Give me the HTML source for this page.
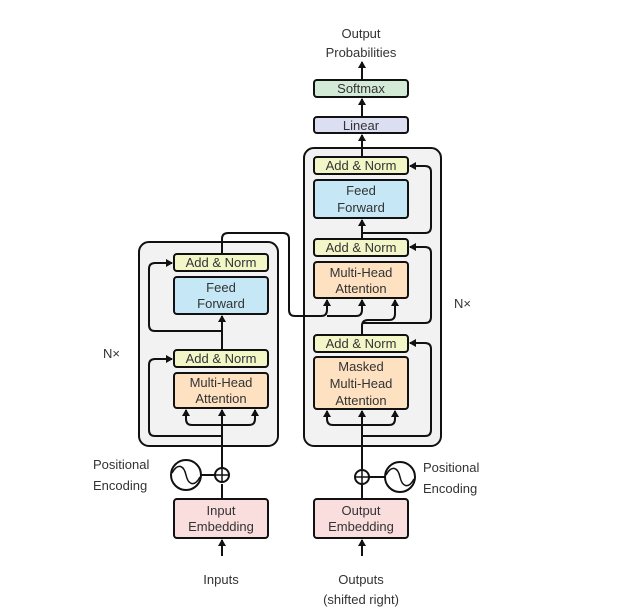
<!DOCTYPE html>
<html><head><style>
body{margin:0;background:#fff;}
svg{display:block;}
text{font-family:"Liberation Sans",sans-serif;font-size:13px;fill:#333;}
</style></head><body>
<svg width="622" height="615" viewBox="0 0 622 615" xmlns="http://www.w3.org/2000/svg">
<defs>
<marker id="a" markerWidth="8" markerHeight="8" refX="6" refY="4" orient="auto" markerUnits="userSpaceOnUse">
<path d="M0,0 L7,4 L0,8 Z" fill="#111"/></marker>
</defs>
<g stroke="#111" stroke-width="2" fill="none">
<!-- encoder box -->
<rect x="139" y="242" width="139" height="204" rx="10" fill="#f2f2f2"/>
<!-- decoder box -->
<rect x="304" y="148" width="137" height="298" rx="10" fill="#f2f2f2"/>
</g>
<g stroke="#111" stroke-width="2" fill="none">
<!-- encoder main line -->
<line x1="222" y1="556" x2="222" y2="540" marker-end="url(#a)"/>
<line x1="222" y1="499" x2="222" y2="484" />
<line x1="222" y1="468" x2="222" y2="410" marker-end="url(#a)"/>
<path d="M222,425 H192 Q186,425 186,419 V410" marker-end="url(#a)"/>
<path d="M222,425 H249 Q255,425 255,419 V410" marker-end="url(#a)"/>
<path d="M222,436 H155 Q149,436 149,430 V365 Q149,359 155,359 H172" marker-end="url(#a)"/>
<line x1="222" y1="350" x2="222" y2="316" marker-end="url(#a)"/>
<path d="M222,331 H155 Q149,331 149,325 V269 Q149,263 155,263 H172" marker-end="url(#a)"/>
<!-- encoder output to decoder -->
<path d="M222,254 V239 Q222,233 228,233 H283 Q289,233 289,239 V310 Q289,316 295,316 H321 Q327,316 327,310 V300" marker-end="url(#a)"/>
<path d="M327,316 H356 Q362,316 362,310 V300" marker-end="url(#a)"/>
<!-- decoder main -->
<line x1="362" y1="556" x2="362" y2="540" marker-end="url(#a)"/>
<line x1="362" y1="499" x2="362" y2="485"/>
<line x1="362" y1="469" x2="362" y2="411" marker-end="url(#a)"/>
<path d="M362,425 H333 Q327,425 327,419 V411" marker-end="url(#a)"/>
<path d="M362,425 H389 Q395,425 395,419 V411" marker-end="url(#a)"/>
<path d="M362,436 H425 Q431,436 431,430 V349 Q431,343 425,343 H410" marker-end="url(#a)"/>
<path d="M362,335 V326 Q362,320 368,320 H389 Q395,320 395,314 V300" marker-end="url(#a)"/>
<path d="M362,323 H425 Q431,323 431,317 V253 Q431,247 425,247 H410" marker-end="url(#a)"/>
<line x1="362" y1="239" x2="362" y2="220" marker-end="url(#a)"/>
<path d="M362,233 H425 Q431,233 431,227 V172 Q431,166 425,166 H410" marker-end="url(#a)"/>
<line x1="362" y1="157" x2="362" y2="135" marker-end="url(#a)"/>
<line x1="362" y1="117" x2="362" y2="99" marker-end="url(#a)"/>
<line x1="362" y1="80" x2="362" y2="62" marker-end="url(#a)"/>
<!-- positional encodings -->
<line x1="200" y1="475" x2="215" y2="475"/>
<line x1="369" y1="477" x2="385" y2="477"/>
</g>
<g stroke="#111" stroke-width="2">
<rect x="174" y="254" width="94" height="17" rx="3" fill="#f3f7c8"/>
<rect x="174" y="277" width="94" height="37" rx="3" fill="#c6e7f5"/>
<rect x="174" y="350" width="94" height="17" rx="3" fill="#f3f7c8"/>
<rect x="174" y="373" width="94" height="35" rx="3" fill="#fde1c1"/>
<rect x="314" y="157" width="94" height="17" rx="3" fill="#f3f7c8"/>
<rect x="314" y="180" width="94" height="38" rx="3" fill="#c6e7f5"/>
<rect x="314" y="239" width="94" height="17" rx="3" fill="#f3f7c8"/>
<rect x="314" y="262" width="94" height="36" rx="3" fill="#fde1c1"/>
<rect x="314" y="335" width="94" height="17" rx="3" fill="#f3f7c8"/>
<rect x="314" y="357" width="94" height="52" rx="3" fill="#fde1c1"/>
<rect x="314" y="117" width="94" height="16" rx="3" fill="#dcdff1"/>
<rect x="314" y="80" width="94" height="17" rx="3" fill="#d3ead6"/>
<rect x="174" y="499" width="94" height="39" rx="3" fill="#fadddd"/>
<rect x="314" y="499" width="94" height="39" rx="3" fill="#fadddd"/>
<circle cx="222" cy="475" r="7" fill="#fff"/>
<circle cx="362" cy="477" r="7" fill="#fff"/>
<circle cx="186" cy="475" r="15" fill="#fff"/>
<circle cx="400" cy="477" r="15" fill="#fff"/>
</g>
<g stroke="#111" stroke-width="1.5" fill="none">
<path d="M215,475 H229 M222,468 V482 M355,477 H369 M362,470 V484"/>
<path d="M172,473 C178,462 184,466 186,475 C188,484 194,488 200,477"/>
<path d="M386,475 C392,464 398,468 400,477 C402,486 408,490 414,479"/>
</g>
<g text-anchor="middle">
<text x="221" y="267">Add &amp; Norm</text>
<text x="221" y="292">Feed</text>
<text x="221" y="308">Forward</text>
<text x="221" y="363">Add &amp; Norm</text>
<text x="221" y="387">Multi-Head</text>
<text x="221" y="403">Attention</text>
<text x="361" y="170">Add &amp; Norm</text>
<text x="361" y="195">Feed</text>
<text x="361" y="212">Forward</text>
<text x="361" y="252">Add &amp; Norm</text>
<text x="361" y="277">Multi-Head</text>
<text x="361" y="293">Attention</text>
<text x="361" y="348">Add &amp; Norm</text>
<text x="361" y="371">Masked</text>
<text x="361" y="388">Multi-Head</text>
<text x="361" y="405">Attention</text>
<text x="361" y="130">Linear</text>
<text x="361" y="93">Softmax</text>
<text x="221" y="515">Input</text>
<text x="221" y="531">Embedding</text>
<text x="361" y="515">Output</text>
<text x="361" y="531">Embedding</text>
<text x="221" y="584" font-size="14">Inputs</text>
<text x="361" y="584" font-size="14">Outputs</text>
<text x="361" y="604" font-size="14">(shifted right)</text>
<text x="361" y="38" font-size="14">Output</text>
<text x="361" y="57" font-size="14">Probabilities</text>
</g>
<text x="93" y="469" font-size="14">Positional</text>
<text x="93" y="490" font-size="14">Encoding</text>
<text x="423" y="472" font-size="14">Positional</text>
<text x="423" y="493" font-size="14">Encoding</text>
<text x="103" y="358" font-size="14">N×</text>
<text x="454" y="308" font-size="14">N×</text>
</svg>
</body></html>
